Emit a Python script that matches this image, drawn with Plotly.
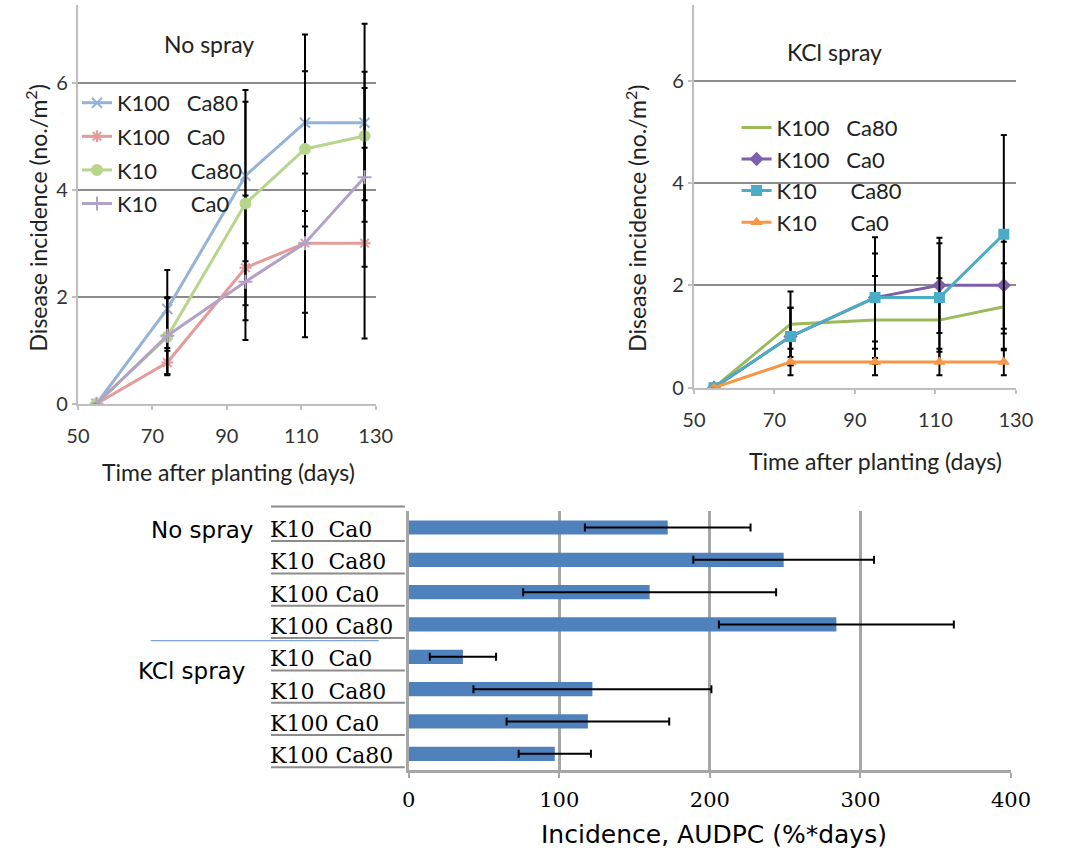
import plotly.graph_objects as go

W, H = 1065, 854

def px(x):
    return x / W

def py(y):
    return 1 - y / H

# ---------------- data ----------------
days = [55, 74, 95, 111, 127]

series_names = ["K100\u00a0\u00a0\u00a0Ca80", "K100\u00a0\u00a0\u00a0Ca0",
                "K10\u00a0\u00a0\u00a0\u00a0\u00a0\u00a0Ca80", "K10\u00a0\u00a0\u00a0\u00a0\u00a0\u00a0Ca0"]

# No spray
ns_k100_ca80 = [0, 1.77, 4.26, 5.25, 5.25]
ns_k100_ca80_err = [0, 0.73, 1.60, 1.65, 1.85]
ns_k100_ca0 = [0, 0.77, 2.54, 3.00, 3.00]
ns_k100_ca0_err = [0, 0.22, 1.35, 1.76, 1.78]
ns_k10_ca80 = [0, 1.25, 3.74, 4.76, 5.00]
ns_k10_ca80_err = [0, 0.72, 1.90, 1.45, 1.20]
ns_k10_ca0 = [0, 1.27, 2.28, 3.00, 4.23]
ns_k10_ca0_err = [0, 0.72, 0.72, 1.30, 1.67]

# KCl spray
kcl_k100_ca80 = [0, 1.24, 1.32, 1.32, 1.58]
kcl_k100_ca80_err = [0, 0.64, 0.86, 0.82, 0.85]
kcl_k100_ca0 = [0, 1.00, 1.76, 2.00, 2.00]
kcl_k100_ca0_err = [0, 0.56, 1.18, 0.93, 0.85]
kcl_k10_ca80 = [0, 1.00, 1.76, 1.76, 3.00]
kcl_k10_ca80_err = [0, 0.56, 0.86, 1.06, 1.94]
kcl_k10_ca0 = [0, 0.50, 0.50, 0.50, 0.50]
kcl_k10_ca0_err = [0, 0.26, 0.26, 0.26, 0.26]

# AUDPC bars (top to bottom)
bar_labels = ["K10\u00a0\u00a0Ca0", "K10\u00a0\u00a0Ca80", "K100\u00a0Ca0", "K100\u00a0Ca80",
              "K10\u00a0\u00a0Ca0", "K10\u00a0\u00a0Ca80", "K100\u00a0Ca0", "K100\u00a0Ca80"]
bar_groups = ["No spray", "KCl spray"]
audpc = [172, 249, 160, 284, 36, 122, 119, 97]
audpc_err = [55, 60, 84, 78, 22, 79, 54, 24]

line_ticks = [50, 70, 90, 110, 130]
line_yticks = [0, 2, 4, 6]
bar_ticks = [0, 100, 200, 300, 400]

# ---------------- figure ----------------
fig = go.Figure()

TOPFONT = "Lato"
eb = dict(type="data", color="black", thickness=2, width=3)

left_series = [
    (ns_k100_ca80, ns_k100_ca80_err, "#95B3D7", "x-thin-open", 10),
    (ns_k100_ca0, ns_k100_ca0_err, "#E39C9A", "asterisk-open", 10),
    (ns_k10_ca80, ns_k10_ca80_err, "#B7D58B", "circle", 10),
    (ns_k10_ca0, ns_k10_ca0_err, "#B3A2C7", "cross-thin-open", 10),
]
for i, (vals, err, col, sym, sz) in enumerate(left_series):
    fig.add_trace(go.Scatter(
        x=days, y=vals, name=series_names[i], mode="lines+markers",
        line=dict(color=col, width=3),
        marker=dict(symbol=sym, size=sz, color=col, line=dict(color=col, width=2)),
        error_y=dict(array=err, **eb),
        xaxis="x", yaxis="y", legend="legend", legendgroup="l%d" % i))

right_series = [
    (kcl_k100_ca80, kcl_k100_ca80_err, "#9BBB59", None),
    (kcl_k100_ca0, kcl_k100_ca0_err, "#7F5FA9", "diamond"),
    (kcl_k10_ca80, kcl_k10_ca80_err, "#4BACC6", "square"),
    (kcl_k10_ca0, kcl_k10_ca0_err, "#F79646", "triangle-up"),
]
for i, (vals, err, col, sym) in enumerate(right_series):
    fig.add_trace(go.Scatter(
        x=days, y=vals, name=series_names[i],
        mode="lines" if sym is None else "lines+markers",
        line=dict(color=col, width=3),
        marker=dict(symbol=sym or "circle", size=11, color=col),
        error_y=dict(array=err, **eb),
        xaxis="x2", yaxis="y2", legend="legend2", legendgroup="r%d" % i))

fig.add_trace(go.Bar(
    x=audpc, y=list(range(len(audpc))), orientation="h", width=0.44,
    marker=dict(color="#4F81BD", line=dict(width=0)),
    error_x=dict(type="data", array=audpc_err, color="black", thickness=2, width=4),
    xaxis="x3", yaxis="y3", showlegend=False))

axfont = dict(family=TOPFONT, size=20, color="#333333")
common_x = dict(range=[50, 130], tickvals=line_ticks, showline=True, linecolor="#BFBFBF",
                linewidth=2, ticks="outside", ticklen=4, tickcolor="#BFBFBF", tickwidth=2,
                showgrid=False, zeroline=False, tickfont=axfont, ticklabelstandoff=9)
common_y = dict(tickvals=line_yticks, showline=True, linecolor="#BFBFBF", linewidth=2,
                ticks="outside", ticklen=4, tickcolor="#BFBFBF", tickwidth=2,
                showgrid=True, gridcolor="#8C8C8C", gridwidth=2, zeroline=False,
                tickfont=axfont)

fig.update_layout(
    width=W, height=H, margin=dict(l=0, r=0, t=0, b=0),
    paper_bgcolor="white", plot_bgcolor="white",
    xaxis=dict(domain=[px(68), px(375)], anchor="y", **common_x),
    yaxis=dict(domain=[py(409), py(5)], range=[0, 7.45], anchor="x", **common_y),
    xaxis2=dict(domain=[px(703), px(1035)], anchor="y2", **common_x),
    yaxis2=dict(domain=[py(392.7), py(5)], range=[0, 7.48], anchor="x2", **common_y),
    xaxis3=dict(domain=[px(409), px(1030)], anchor="y3", range=[0, 400], tickvals=bar_ticks,
                showgrid=True, gridcolor="#A6A6A6", gridwidth=2.5, showline=True,
                linecolor="#A6A6A6", linewidth=2.5, ticks="outside", ticklen=5,
                tickcolor="#A6A6A6", tickwidth=2, zeroline=False, ticklabelstandoff=4,
                tickfont=dict(family="DejaVu Serif", size=21, color="black")),
    yaxis3=dict(domain=[py(780), py(518)], anchor="x3", range=[7.5, -0.5],
                showticklabels=False, showline=True, linecolor="#A6A6A6", linewidth=2.5,
                showgrid=False, zeroline=False, ticks=""),
    legend=dict(x=px(67), y=py(83), xanchor="left", yanchor="top",
                bgcolor="rgba(0,0,0,0)", tracegroupgap=2,
                font=dict(family=TOPFONT, size=22, color="#222222")),
    legend2=dict(x=px(747), y=py(108), xanchor="left", yanchor="top",
                 bgcolor="rgba(0,0,0,0)", tracegroupgap=0,
                 font=dict(family=TOPFONT, size=22, color="#222222")),
)

titlefont = dict(family=TOPFONT, size=23, color="#222222")

def label(text, x, y, font, angle=0):
    return dict(text=text, x=px(x), y=py(y), xref="paper", yref="paper",
                xanchor="center", yanchor="middle", showarrow=False,
                textangle=angle, font=font)

ann = [
    label("No spray", 203, 45, titlefont),
    label("KCl spray", 848, 53, titlefont),
    label("Time after planting (days)", 223, 478, titlefont),
    label("Time after planting (days)", 890, 467, titlefont),
    label("Disease incidence (no./m<sup>2</sup>)", 25, 221, titlefont, -90),
    label("Disease incidence (no./m<sup>2</sup>)", 643, 221, titlefont, -90),
    label("Incidence, AUDPC (%*days)", 724, 845,
          dict(family="DejaVu Sans", size=25, color="black")),
]

for i, lab in enumerate(bar_labels):
    ann.append(dict(text=lab, x=px(264), y=i, xref="paper", yref="y3", xanchor="left",
                    yanchor="middle", yshift=-2, showarrow=False,
                    font=dict(family="DejaVu Serif", size=22, color="black")))

gfont = dict(family="DejaVu Sans", size=23, color="black")
ann.append(dict(text=bar_groups[0], x=px(141), y=0.08, xref="paper", yref="y3",
                xanchor="left", yanchor="middle", showarrow=False, font=gfont))
ann.append(dict(text=bar_groups[1], x=px(128), y=4.45, xref="paper", yref="y3",
                xanchor="left", yanchor="middle", showarrow=False, font=gfont))
fig.update_layout(annotations=ann)

shapes = []
shapes.append(dict(type="line", xref="paper", yref="paper", x0=px(267), x1=px(405),
                   y0=py(513), y1=py(513), line=dict(color="#8C8C8C", width=2)))
for i in range(len(bar_labels)):
    shapes.append(dict(type="line", xref="paper", yref="y3", x0=px(267), x1=px(405),
                       y0=i + 0.42, y1=i + 0.42, line=dict(color="#8C8C8C", width=2)))
shapes.append(dict(type="line", xref="paper", yref="y3", x0=px(143), x1=px(378),
                   y0=3.5, y1=3.5, line=dict(color="#7FA3D1", width=1.2)))
fig.update_layout(shapes=shapes)

fig.write_html("out.html")
